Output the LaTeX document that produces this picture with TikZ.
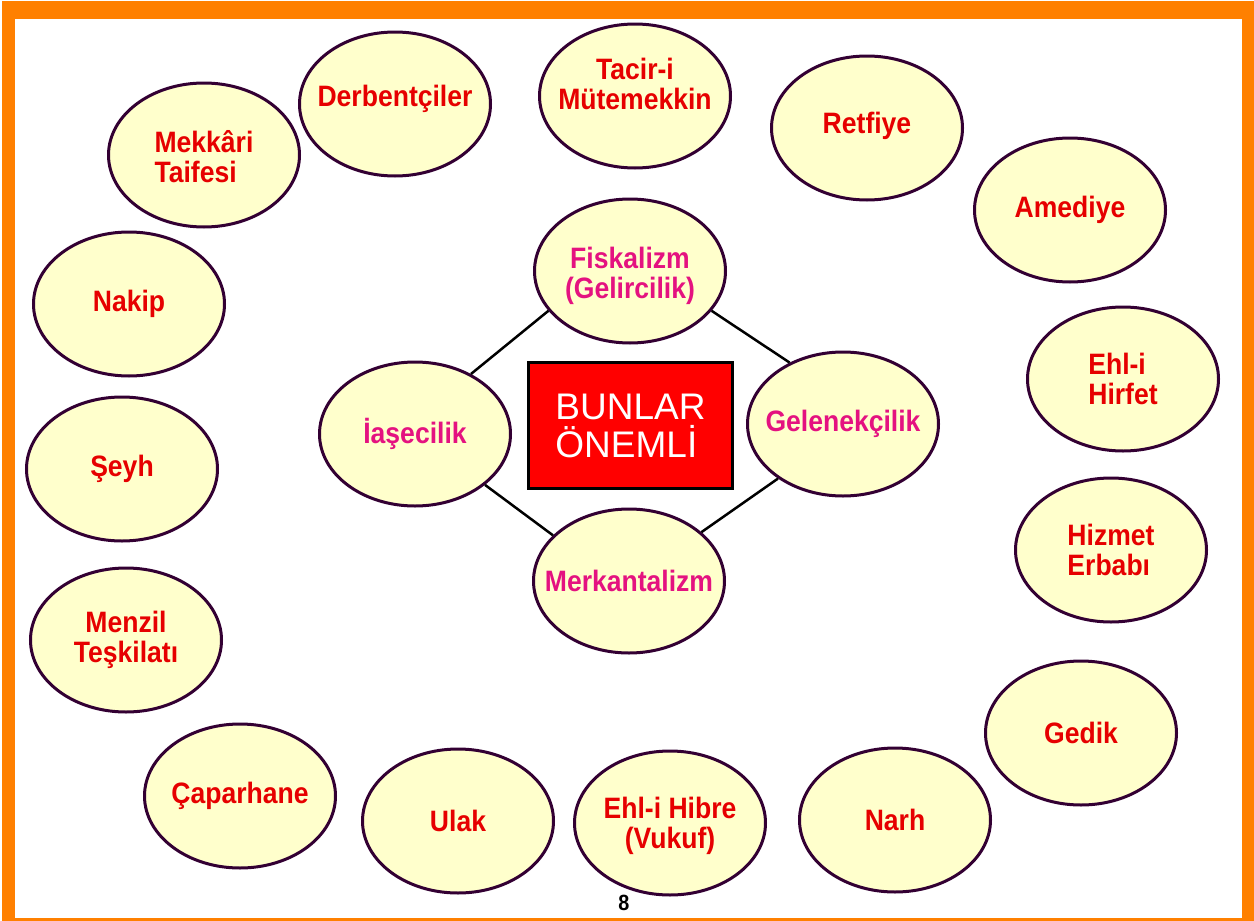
\documentclass[tikz,border=0pt]{standalone}
\usepackage{fontspec}
\setmainfont{Liberation Sans}
\newfontfamily\narrowsans[FakeStretch=0.9]{Liberation Sans}
\usetikzlibrary{shapes.geometric}
\definecolor{frameorange}{RGB}{255,128,0}
\definecolor{ovalfill}{RGB}{255,255,204}
\definecolor{ovalline}{RGB}{51,0,51}
\definecolor{outred}{RGB}{230,0,0}
\definecolor{innmag}{RGB}{228,18,128}
\definecolor{boxred}{RGB}{255,0,0}
\tikzset{
  oval/.style={ellipse, draw=ovalline, fill=ovalfill, line width=3pt,
    minimum width=191pt, minimum height=144pt, inner sep=0pt},
  otext/.style={inner sep=0pt, text=outred, align=center,
    font=\narrowsans\bfseries\fontsize{29.5}{30}\selectfont},
  itext/.style={otext, text=innmag},
  link/.style={line width=2.5pt, draw=black}
}
\begin{document}
\begin{tikzpicture}[x=1pt,y=-1pt]
\useasboundingbox (0,0) rectangle (1254,921);
\fill[white] (0,0) rectangle (1254,921);
\fill[frameorange] (2,1) rectangle (1254,921);
\fill[white] (15,19) rectangle (1242,918);

% outer ring
\node[oval] (mekk) at (204,155) {};
\node[otext, align=left] (mekk-t) at ([yshift=-2pt]mekk.center) {Mekkâri\\Taifesi};
\node[oval] (derb) at (395,104) {};
\node[otext] (derb-t) at ([yshift=5pt]derb.center) {Derbentçiler};
\node[oval] (tacir) at (635,96) {};
\node[otext] (tacir-t) at ([yshift=12pt]tacir.center) {Tacir-i\\Mütemekkin};
\node[oval] (retf) at (867,128) {};
\node[otext] (retf-t) at ([yshift=2pt]retf.center) {Retfiye};
\node[oval] (amed) at (1070,210) {};
\node[otext] (amed-t) at (amed.center) {Amediye};
\node[oval] (hirf) at (1123,379) {};
\node[otext, align=left] (hirf-t) at (hirf.center) {Ehl-i\\Hirfet};
\node[oval] (hizm) at (1111,550) {};
\node[otext, align=left] (hizm-t) at (hizm.center) {Hizmet\\Erbabı};
\node[oval] (gedik) at (1081,733) {};
\node[otext] (gedik-t) at (gedik.center) {Gedik};
\node[oval] (narh) at (895,820) {};
\node[otext] (narh-t) at (narh.center) {Narh};
\node[oval] (hibre) at (670,823) {};
\node[otext] (hibre-t) at ([yshift=-3pt]hibre.center) {Ehl-i Hibre\\(Vukuf)};
\node[oval] (ulak) at (458,821) {};
\node[otext] (ulak-t) at (ulak.center) {Ulak};
\node[oval] (capar) at (240,796) {};
\node[otext] (capar-t) at (capar.center) {Çaparhane};
\node[oval] (menzil) at (126,640) {};
\node[otext] (menzil-t) at (menzil.center) {Menzil\\Teşkilatı};
\node[oval] (seyh) at (122,469) {};
\node[otext] (seyh-t) at (seyh.center) {Şeyh};
\node[oval] (nakip) at (129,304) {};
\node[otext] (nakip-t) at (nakip.center) {Nakip};

% centre
\node[oval] (fisk) at (630,271) {};
\node[itext] (fisk-t) at ([yshift=-5pt]fisk.center) {Fiskalizm\\(Gelircilik)};
\node[oval] (iase) at (415,434) {};
\node[itext] (iase-t) at (iase.center) {İaşecilik};
\node[oval] (gelen) at (843,424) {};
\node[itext] (gelen-t) at (gelen.center) {Gelenekçilik};
\node[oval] (merk) at (629,581) {};
\node[itext] (merk-t) at (merk.center) {Merkantalizm};
\node[draw=black, fill=boxred, line width=2.5pt, minimum width=204pt,
      minimum height=126pt, inner sep=0pt, text=white, align=left,
      font=\fontsize{37}{38}\selectfont] (box) at (630.5,425.5) {BUNLAR\\ÖNEMLİ};

\draw[link] (fisk.206) -- (iase.47);
\draw[link] (fisk.334) -- (gelen.131);
\draw[link] (iase.324) -- (merk.149);
\draw[link] (gelen.220) -- (merk.34);

\node[font=\narrowsans\bfseries\fontsize{22}{22}\selectfont] (pnum) at (624,903) {8};
\end{tikzpicture}
\end{document}
